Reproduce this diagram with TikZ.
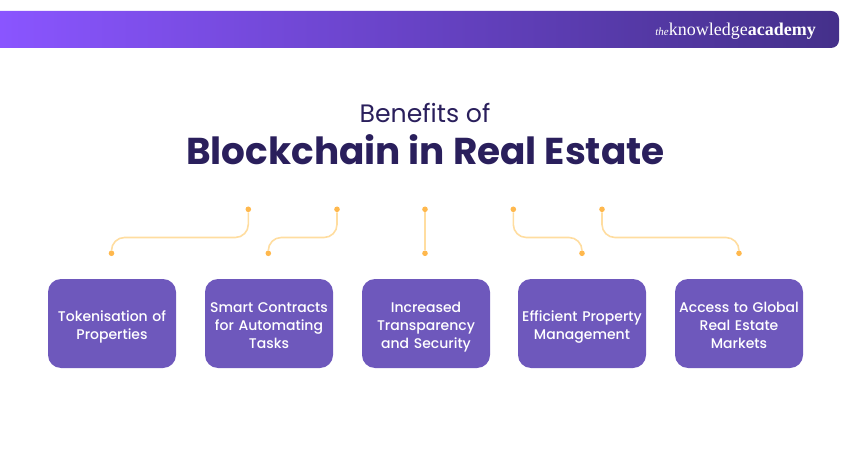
\documentclass[tikz,border=0pt]{standalone}
\usepackage{xcolor}
\usepackage{fontspec}
\setmainfont{Poppins}
\newfontfamily\popmed{Poppins Medium}
\newfontfamily\logofont{Liberation Serif}
\usetikzlibrary{calc}
\definecolor{violet1} {RGB} {138, 85, 255}
\definecolor{violet2} {RGB} {99, 62, 189}
\definecolor{violet3} {RGB} {68, 48, 138}
\definecolor{boxviolet} {RGB} {110, 88, 188}
\definecolor{titleink} {RGB} {42, 31, 92}
\definecolor{gold1} {RGB} {255, 184, 77}
\definecolor{gold2} {RGB} {255, 221, 160}
\tikzstyle{benefits}=[
  x=1pt, y=1pt, font=\popmed
]
\tikzstyle{benefitbox}=[
  fill=boxviolet, rounded corners=13pt, minimum width=128pt, minimum height=89pt,
  text width=126pt, align=center, text=white, inner sep=0pt,
  font=\popmed\fontsize{14pt}{18pt}\selectfont,
  execute at begin node={\rule{0pt}{17.5pt}},
  execute at end node={\rule[-3.5pt]{0pt}{3.5pt}}
]
\tikzstyle{benefitdot}=[
  circle, fill=gold1, minimum size=5.6pt, inner sep=0pt
]
\tikzstyle{benefitedge}=[
  draw=gold2, line width=1.6pt, rounded corners=13pt
]
\begin{document}
\begin{tikzpicture}[benefits]
    \useasboundingbox (0, 0) rectangle (850, 450);
    \path [left color=violet1, middle color=violet2, right color=violet3]
        (0, 402) [rounded corners=8pt] -- (839, 402) -- (839, 439) [sharp corners] -- (0, 439) -- cycle;
    \node (logo) [text=white, inner sep=0pt, anchor=base east] at (816, 414.5)
        {\logofont\fontsize{18pt}{18pt}\selectfont{\itshape\fontsize{11pt}{11pt}\selectfont the}knowledge\textbf{academy}};
    \node (title1) [text=titleink, inner sep=0pt, font=\fontsize{25.2pt}{25.2pt}\selectfont] at (425, 337) {Benefits of};
    \node (title2) [text=titleink, inner sep=0pt, font=\bfseries\fontsize{37.4pt}{37.4pt}\selectfont] at (425.5, 300) {Blockchain in Real Estate};
    \node (box1) [benefitbox] at (112, 126.5) {Tokenisation of\\Properties};
    \node (box2) [benefitbox] at ($(box1) + (157, 0)$) {Smart Contracts\\for Automating\\Tasks};
    \node (box3) [benefitbox] at ($(box2) + (157, 0)$) {Increased\\Transparency\\and Security};
    \node (box4) [benefitbox] at ($(box3) + (156, 0)$) {Efficient Property\\Management};
    \node (box5) [benefitbox] at ($(box4) + (157, 0)$) {Access to Global\\Real Estate\\Markets};
    \node (low1) [benefitdot] at (111.5, 196.7) {};
    \node (low2) [benefitdot] at (268.3, 196.7) {};
    \node (low3) [benefitdot] at (425, 196.7) {};
    \node (low4) [benefitdot] at (582, 196.7) {};
    \node (low5) [benefitdot] at (739, 196.7) {};
    \node (high1) [benefitdot] at (248.3, 240.7) {};
    \node (high2) [benefitdot] at (337, 240.7) {};
    \node (high3) [benefitdot] at (425, 240.7) {};
    \node (high4) [benefitdot] at (513.3, 240.7) {};
    \node (high5) [benefitdot] at (602, 240.7) {};
    \draw [benefitedge] (low1) -- ++(0, 15.8) -| (high1);
    \draw [benefitedge] (low2) -- ++(0, 15.8) -| (high2);
    \draw [benefitedge] (low3) -- (high3);
    \draw [benefitedge] (low4) -- ++(0, 15.8) -| (high4);
    \draw [benefitedge] (low5) -- ++(0, 15.8) -| (high5);
\end{tikzpicture}
\end{document}
